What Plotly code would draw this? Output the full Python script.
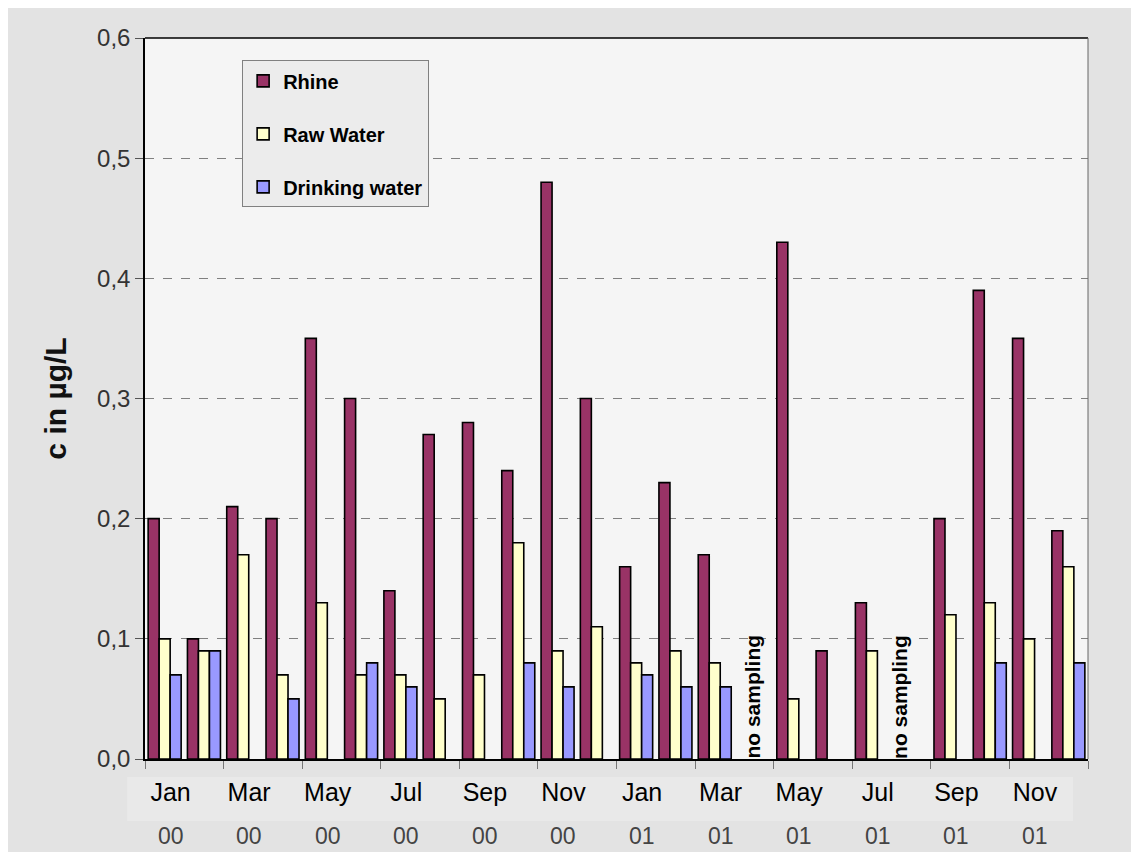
import plotly.graph_objects as go

months = ["Jan", "Feb", "Mar", "Apr", "May", "Jun", "Jul", "Aug", "Sep", "Oct", "Nov", "Dec"] * 2
years = ["00"] * 12 + ["01"] * 12
rhine = [0.20, 0.10, 0.21, 0.20, 0.35, 0.30, 0.14, 0.27, 0.28, 0.24, 0.48, 0.30,
         0.16, 0.23, 0.17, None, 0.43, 0.09, 0.13, None, 0.20, 0.39, 0.35, 0.19]
raw_water = [0.10, 0.09, 0.17, 0.07, 0.13, 0.07, 0.07, 0.05, 0.07, 0.18, 0.09, 0.11,
             0.08, 0.09, 0.08, None, 0.05, None, 0.09, None, 0.12, 0.13, 0.10, 0.16]
drinking = [0.07, 0.09, None, 0.05, None, 0.08, 0.06, None, None, 0.08, 0.06, None,
            0.07, 0.06, 0.06, None, None, None, None, None, None, 0.08, None, 0.08]
no_sampling_idx = [15, 19]
y_ticks = [0.0, 0.1, 0.2, 0.3, 0.4, 0.5, 0.6]

x = list(range(len(months)))
label_idx = [i for i in x if i % 2 == 0]

fig = go.Figure()
series = [("Rhine", rhine, "#993366"), ("Raw Water", raw_water, "#FFFFCC"), ("Drinking water", drinking, "#9999FF")]
for name, vals, col in series:
    fig.add_trace(go.Bar(x=x, y=vals, name=name, legendgroup=name,
                         marker=dict(color=col, line=dict(color="black", width=1.6))))

annotations = []
for i in label_idx:
    annotations.append(dict(x=i + 0.15, y=-0.107, xref="x", yref="paper", text=years[i], showarrow=False,
                            font=dict(family="Liberation Sans, Arial", size=23, color="#444444"), yanchor="middle"))
for i in no_sampling_idx:
    annotations.append(dict(x=i - 0.05 if i == 15 else i - 0.3, y=0.052, xref="x", yref="y", text="no sampling",
                            textangle=-90, showarrow=False,
                            font=dict(family="Liberation Sans Narrow, Arial Narrow, Liberation Sans", size=21,
                                      color="black", weight="bold")))

shapes = [
    dict(type="rect", xref="paper", yref="paper", x0=-0.019, x1=0.984, y0=-0.025, y1=-0.086,
         fillcolor="#e9e9e9", line=dict(width=0), layer="below"),
    dict(type="line", xref="paper", yref="paper", x0=0, x1=1, y0=1, y1=1, line=dict(color="black", width=1.5)),
    dict(type="line", xref="paper", yref="paper", x0=1, x1=1, y0=0, y1=1, line=dict(color="#666666", width=1)),
]

fig.update_layout(
    width=1131, height=844,
    margin=dict(l=137, r=51, t=30, b=93),
    paper_bgcolor="#e3e3e3", plot_bgcolor="#f5f5f5",
    separators=",.",
    barmode="group", bargap=0.16, bargroupgap=0,
    font=dict(family="Liberation Sans, Arial", color="black"),
    xaxis=dict(range=[-0.5, 23.5], tickmode="array", tickvals=[i + 0.15 for i in label_idx],
               ticktext=[months[i] for i in label_idx], ticks="outside", ticklen=10,
               tickcolor="rgba(0,0,0,0)", tickfont=dict(size=25, color="black"),
               showline=True, linecolor="black", linewidth=1.5, showgrid=False, zeroline=False,
               minor=dict(tickmode="linear", tick0=-0.5, dtick=2, ticks="outside", ticklen=8,
                          tickcolor="#777777", showgrid=False)),
    yaxis=dict(range=[0, 0.6], tickmode="array", tickvals=y_ticks, tickformat=".1f",
               ticks="outside", ticklen=8, tickcolor="#555555", tickfont=dict(size=24, color="#333333"),
               showline=True, linecolor="black", linewidth=1.5, zeroline=False,
               showgrid=True, gridcolor="#808080", griddash="dash", gridwidth=1,
               title=dict(text="c in µg/L", font=dict(size=30, color="#111111", weight="bold"), standoff=22)),
    legend=dict(x=0.103, y=0.969, xanchor="left", yanchor="top", bgcolor="#ececec",
                bordercolor="#808080", borderwidth=1, traceorder="grouped", tracegroupgap=24,
                font=dict(family="Liberation Sans Narrow, Arial Narrow, Liberation Sans", size=20,
                          color="black", weight="bold")),
    annotations=annotations,
    shapes=shapes,
)

fig.write_html("out.html")
